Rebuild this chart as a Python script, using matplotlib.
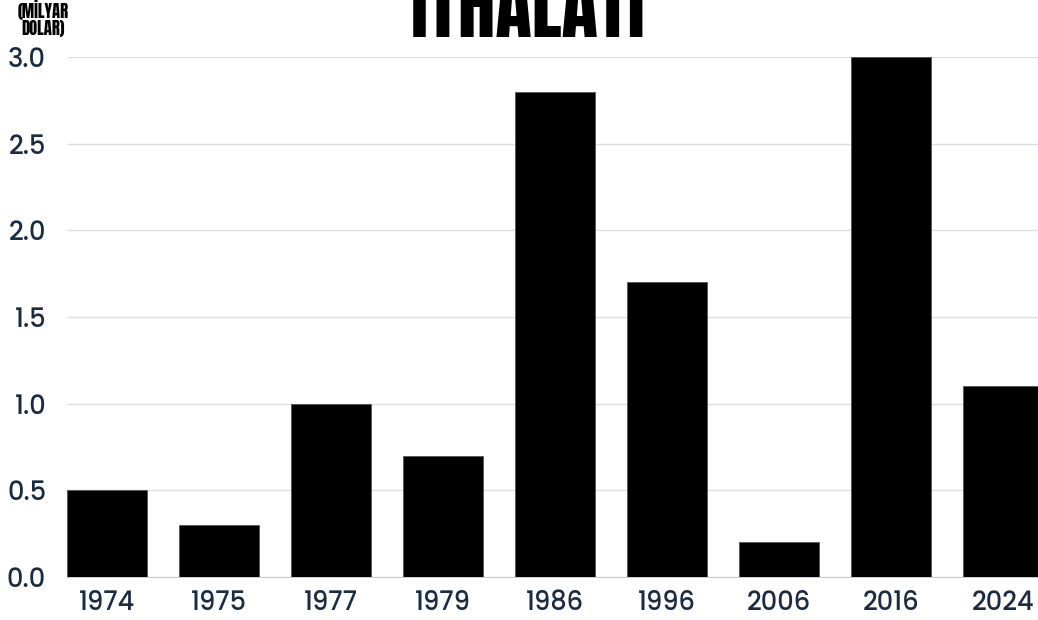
import matplotlib

matplotlib.use("Agg")
import matplotlib.pyplot as plt
from matplotlib import font_manager
import numpy as np

years = ["1974", "1975", "1977", "1979", "1986", "1996", "2006", "2016", "2024"]
values = [0.5, 0.3, 1.0, 0.7, 2.8, 1.7, 0.2, 3.0, 1.1]
yticks = [0.0, 0.5, 1.0, 1.5, 2.0, 2.5, 3.0]

installed = {f.name for f in font_manager.fontManager.ttflist}


def pick(candidates):
    for name in candidates:
        if name in installed:
            return name
    return "DejaVu Sans"


title_font = pick(["Anton", "Bebas Neue", "Oswald", "Roboto Condensed"])
tick_font = pick(["Poppins", "Inter"])

W, H = 1038, 620
fig = plt.figure(figsize=(W / 100, H / 100), dpi=100)
ax = fig.add_axes([67 / W, 1 - 577 / H, (1043 - 67) / W, (577 - 57) / H])

x = np.arange(len(years))
ax.bar(x, values, width=0.714, color="black", edgecolor="#555555", linewidth=0.6, zorder=3)
ax.set_xlim(-0.357, len(years) - 1 + 0.357)
ax.set_ylim(0, 3.0)

ax.set_yticks(yticks)
ax.set_yticklabels([f"{v:.1f}" for v in yticks])
ax.set_xticks(x)
ax.set_xticklabels(years)
ax.grid(axis="y", color="#dcdfe3", linewidth=1.0, zorder=0)
for side in ["top", "right", "left"]:
    ax.spines[side].set_visible(False)
ax.spines["bottom"].set_color("#c9ced4")
ax.tick_params(axis="both", length=0, labelsize=18.5, labelcolor="#1b2c42")
ax.tick_params(axis="y", pad=15)
ax.tick_params(axis="x", pad=9)
for lab in ax.get_xticklabels() + ax.get_yticklabels():
    lab.set_fontfamily(tick_font)
    lab.set_fontweight("medium")

fig.text(528 / W, 1 - 37 / H, "İTHALATI", ha="center", va="baseline",
         fontsize=54, family=title_font, color="black")
fig.text(43 / W, 1 - 0 / H, "(MİLYAR\nDOLAR)", ha="center", va="top",
         fontsize=12, family=title_font, linespacing=1.0, color="black")

fig.savefig("out.png", dpi=100)
